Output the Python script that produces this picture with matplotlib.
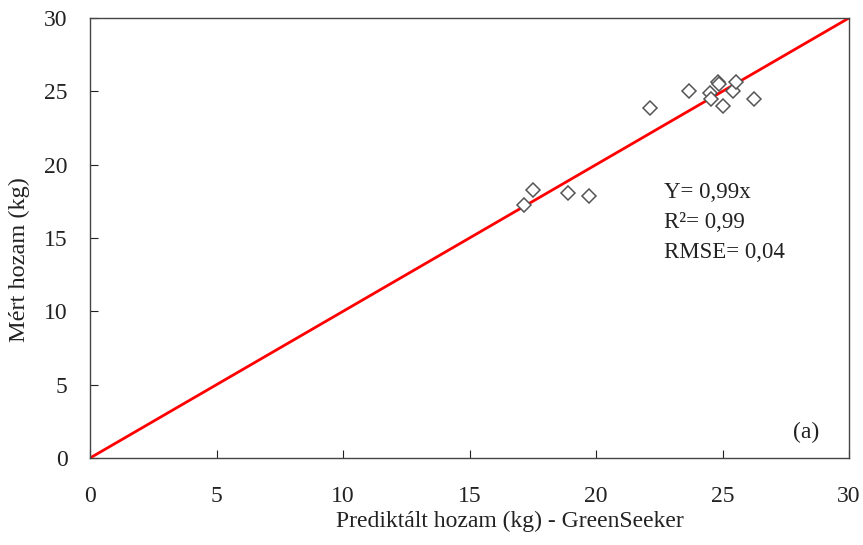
import numpy as np
import matplotlib
matplotlib.use('Agg')
import matplotlib.pyplot as plt

# predicted (GreenSeeker) vs measured yield, kg
predicted = [17.15, 17.52, 18.91, 19.73, 22.13, 23.69, 24.51, 24.55, 24.83, 24.86,
             25.03, 25.40, 25.53, 26.25]
measured = [17.27, 18.30, 18.07, 17.86, 23.83, 25.02, 24.90, 24.45, 25.65, 25.50,
            23.99, 25.04, 25.65, 24.49]
fit_x = [0, 30]
fit_y = [0, 30]

plt.rcParams['font.family'] = ['Liberation Serif', 'DejaVu Serif']

fig = plt.figure(figsize=(8.63, 5.45), dpi=100)
ax = fig.add_axes([0.1043, 0.1596, 0.8795, 0.8074])

ax.plot(fit_x, fit_y, color='#ff0000', lw=2, zorder=2)
ax.plot(predicted, measured, linestyle='none', marker='D', markersize=7,
        markerfacecolor='white', markeredgecolor='#555555', markeredgewidth=1.1, zorder=3)

ax.set_xlim(0, 30)
ax.set_ylim(0, 30)
ax.set_xticks(np.arange(0, 31, 5))
ax.set_yticks(np.arange(0, 31, 5))
ax.tick_params(direction='in', labelsize=17, colors='#222222', length=6)
ax.tick_params(axis='x', pad=20)
ax.tick_params(axis='y', pad=16)
for s in ax.spines.values():
    s.set_color('#444444')
    s.set_linewidth(1.0)

# axis titles placed where they sit in the original (slightly off-centre)
fig.text(510 / 863, 1 - 521 / 545, 'Prediktált hozam (kg) - GreenSeeker', fontsize=17,
         ha='center', va='center', color='#222222')
fig.text(19 / 863, 1 - 260 / 545, 'Mért hozam (kg)', fontsize=17.5, rotation=90,
         ha='center', va='center', color='#222222')

ax.text(22.7, 18.8, 'Y= 0,99x\nR²= 0,99\nRMSE= 0,04', fontsize=16.5, va='top', ha='left',
        linespacing=1.55, color='#222222')
ax.text(28.3, 1.75, '(a)', fontsize=17, ha='center', va='center', color='#222222')

fig.savefig('out.png', dpi=100)
